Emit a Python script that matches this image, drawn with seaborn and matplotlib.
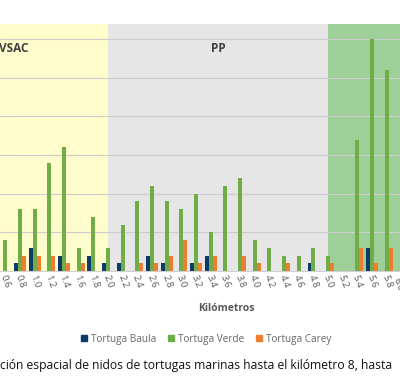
import pandas as pd
import matplotlib
matplotlib.use('Agg')
import matplotlib.pyplot as plt
from matplotlib.patches import Patch
import seaborn as sns

# Datos (nidos por tramo de 200 m)
KM = ['0.6', '0.8', '1.0', '1.2', '1.4', '1.6', '1.8', '2.0', '2.2', '2.4',
      '2.6', '2.8', '3.0', '3.2', '3.4', '3.6', '3.8', '4.0', '4.2', '4.4',
      '4.6', '4.8', '5.0', '5.2', '5.4', '5.6', '5.8', '6.0']
BAULA = [0, 1, 3, 0, 2, 0, 2, 1, 1, 0, 2, 1, 0, 1, 2, 0, 0, 0, 0, 0,
         0, 1, 0, 0, 0, 3, 0, 0]
VERDE = [4, 8, 8, 14, 16, 3, 7, 3, 6, 9, 11, 9, 8, 10, 5, 11, 12, 4, 3, 2,
         2, 3, 2, 0, 17, 30, 26, 9]
CAREY = [0, 2, 2, 2, 1, 1, 0, 0, 0, 1, 1, 2, 4, 1, 2, 0, 2, 1, 0, 1,
         0, 0, 1, 0, 3, 1, 3, 0]
SPECIES = ['Tortuga Baula', 'Tortuga Verde', 'Tortuga Carey']
COLORS = ['#0b3a6b', '#70ad47', '#ed7d31']

# zonas (en km)
ZONES = [('VSAC', '0.6', '2.0', '#fffdcc'),
         ('PP', '2.0', '5.0', '#e6e6e6'),
         ('', '5.0', '6.0', '#9ecf98')]

df = pd.DataFrame({'km': KM * 3,
                   'nidos': BAULA + VERDE + CAREY,
                   'especie': [s for s in SPECIES for _ in KM]})

sns.set_style('white')
plt.rcParams['font.family'] = ['Open Sans', 'DejaVu Sans']

fig = plt.figure(figsize=(4.0, 3.88), dpi=100)
ax = fig.add_axes([0.0, 0.3015, 1.0, 0.6366])

# fondos de zona
for name, a, b, col in ZONES:
    x0 = KM.index(a) if name != 'VSAC' else -5
    x1 = KM.index(b) if name != '' else 40
    ax.axvspan(x0, x1, color=col, zorder=0, lw=0)

sns.barplot(data=df, x='km', y='nidos', hue='especie', order=KM,
            hue_order=SPECIES, palette=COLORS, width=0.8, ax=ax,
            legend=False, linewidth=0, saturation=1)

ax.set_xlim(-0.363, 26.9)
ax.set_ylim(0, 31.95)
ax.set_yticks([5, 10, 15, 20, 25, 30])
ax.yaxis.grid(True, color='#cdcdcd', lw=0.8)
ax.set_axisbelow(True)
ax.set_yticklabels([])
ax.set_xlabel('')
ax.set_ylabel('')
ax.tick_params(axis='both', length=0)
ax.tick_params(axis='x', pad=2, labelsize=6.8, labelcolor='#595959')
for lab in ax.get_xticklabels():
    lab.set_rotation(-70)
    lab.set_ha('center')
# la ultima etiqueta queda fuera del limite: se dibuja a mano, cortada
last = len(KM) - 1
ax.text(last - 0.25, -0.7, KM[last], rotation=-70, ha='center', va='top',
        fontsize=6.8, color='#595959', clip_on=False)
for s in ['top', 'left', 'right']:
    ax.spines[s].set_visible(False)
ax.spines['bottom'].set_color('#d0d0d0')
ax.spines['bottom'].set_linewidth(0.8)

ax.text(-0.45, 28.8, 'VSAC', fontsize=8.5, fontweight='bold', color='#404040',
        ha='left', va='center')
ax.text(14.0, 28.8, 'PP', fontsize=8.5, fontweight='bold', color='#404040',
        ha='left', va='center')

fig.text(0.565, 0.206, 'Kilómetros', fontsize=7.5, fontweight='bold',
         color='#595959', ha='center', va='center')

handles = [Patch(color=c, label=s) for s, c in zip(SPECIES, COLORS)]
fig.legend(handles=handles, loc='center', bbox_to_anchor=(0.515, 0.126),
           ncol=3, frameon=False, fontsize=7.2, handlelength=0.6,
           handleheight=0.6, handletextpad=0.4, columnspacing=1.2,
           labelcolor='#666666')

fig.text(0.0, 0.057, 'ción espacial de nidos de tortugas marinas hasta el kilómetro 8, hasta',
         fontsize=8.7, color='#111111', ha='left', va='center')

fig.savefig('out.png', dpi=100)
